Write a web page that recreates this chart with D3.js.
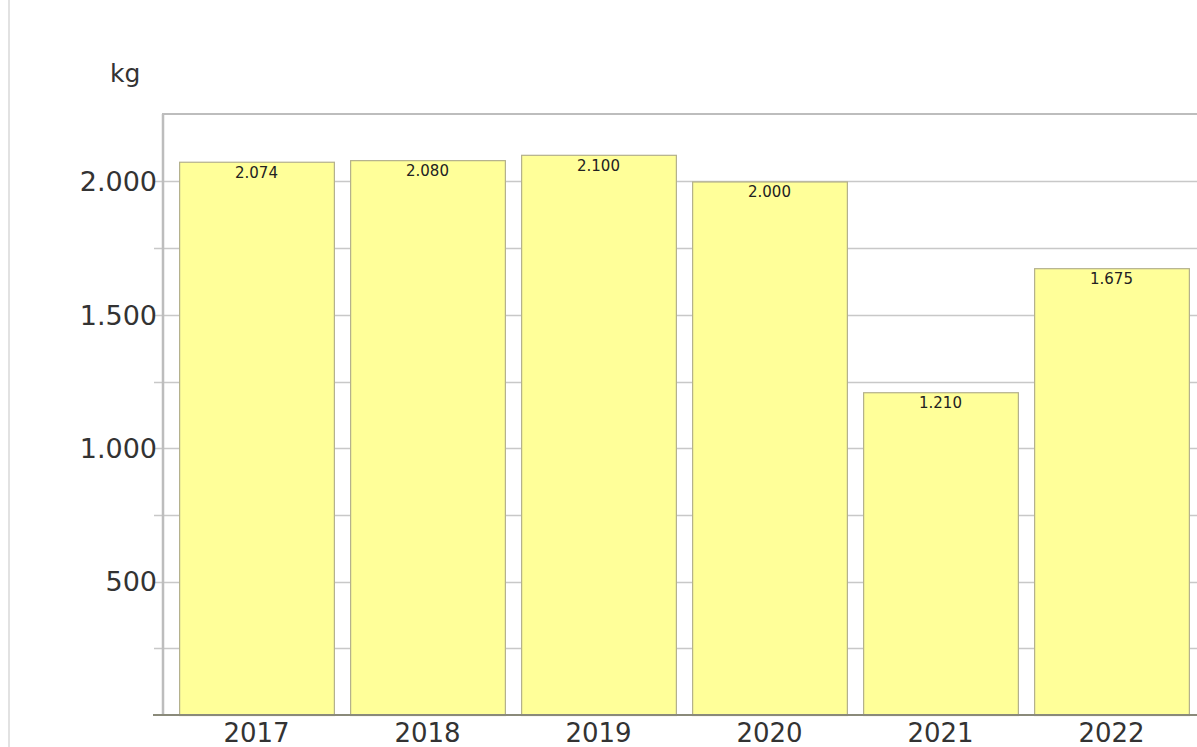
<!DOCTYPE html>
<html>
<head>
<meta charset="utf-8">
<script src="https://cdn.jsdelivr.net/npm/d3@7"></script>
<style>
  body { margin: 0; background: #fff; overflow: hidden; }
  svg { display: block; font-family: "DejaVu Sans", Verdana, sans-serif; }
</style>
</head>
<body>
<div id="chart"></div>
<script>
/* DATA */
const years = ["2017", "2018", "2019", "2020", "2021", "2022"];
const values = [2074, 2080, 2100, 2000, 1210, 1675];
const yTicks = [500, 1000, 1500, 2000];
const gridTicks = [250, 500, 750, 1000, 1250, 1500, 1750, 2000];
const unitLabel = "kg";

/* CONSTANTS */
const width = 1197,
  height = 747,
  margin = { top: 114, bottom: 32, left: 162, right: 0 };

// german number format: 2.074
const de = d3.formatLocale({ decimal: ",", thousands: ".", grouping: [3], currency: ["", " €"] });
const fmt = de.format(",d");

const svg = d3.select("#chart")
  .append("svg")
  .attr("width", width)
  .attr("height", height);

// left frame border of the page box
svg.append("line")
  .attr("x1", 9).attr("x2", 9)
  .attr("y1", 0).attr("y2", height)
  .attr("stroke", "#e2e2e2")
  .attr("stroke-width", 2);

/* SCALES */
const xScale = d3.scaleBand()
  .domain(years)
  .range([171, 171 + 6 * 171])
  .paddingInner(0.095)
  .paddingOuter(0.0475);

const yScale = d3.scaleLinear()
  .domain([0, 2253])
  .range([height - margin.bottom, margin.top]);

const plotRight = width;

/* GRID */
svg.append("g")
  .selectAll("line")
  .data(gridTicks)
  .join("line")
  .attr("x1", 154)
  .attr("x2", plotRight)
  .attr("y1", d => Math.round(yScale(d)) + 0.5)
  .attr("y2", d => Math.round(yScale(d)) + 0.5)
  .attr("stroke", "#c8c8c8")
  .attr("stroke-width", 1.5);

// top border of plot
svg.append("line")
  .attr("x1", margin.left).attr("x2", plotRight)
  .attr("y1", margin.top).attr("y2", margin.top)
  .attr("stroke", "#bdbdbd")
  .attr("stroke-width", 2);

// y axis line
svg.append("line")
  .attr("x1", margin.left + 1).attr("x2", margin.left + 1)
  .attr("y1", margin.top).attr("y2", yScale(0))
  .attr("stroke", "#bdbdbd")
  .attr("stroke-width", 2.5);

/* BARS */
svg.append("g")
  .selectAll("rect")
  .data(values)
  .join("rect")
  .attr("x", (d, i) => xScale(years[i]) + 0.5)
  .attr("y", d => yScale(d) + 0.5)
  .attr("width", xScale.bandwidth())
  .attr("height", d => yScale(0) - yScale(d))
  .attr("fill", "#ffff99")
  .attr("stroke", "#b3b08c")
  .attr("stroke-width", 1.2);

// value labels
svg.append("g")
  .selectAll("text")
  .data(values)
  .join("text")
  .attr("x", (d, i) => xScale(years[i]) + xScale.bandwidth() / 2)
  .attr("y", d => yScale(d) + 16)
  .attr("text-anchor", "middle")
  .attr("font-size", 15)
  .attr("fill", "#222")
  .text(d => fmt(d));

// x axis baseline
svg.append("line")
  .attr("x1", 153).attr("x2", plotRight)
  .attr("y1", yScale(0)).attr("y2", yScale(0))
  .attr("stroke", "#8a8a7a")
  .attr("stroke-width", 2);

/* AXES LABELS */
svg.append("g")
  .selectAll("text")
  .data(yTicks)
  .join("text")
  .attr("x", 157)
  .attr("y", d => yScale(d))
  .attr("dy", "0.36em")
  .attr("text-anchor", "end")
  .attr("font-size", 27)
  .attr("fill", "#333")
  .text(d => fmt(d));

svg.append("g")
  .selectAll("text")
  .data(years)
  .join("text")
  .attr("x", d => xScale(d) + xScale.bandwidth() / 2)
  .attr("y", yScale(0) + 27)
  .attr("text-anchor", "middle")
  .attr("font-size", 26)
  .attr("fill", "#333")
  .text(d => d);

svg.append("text")
  .attr("x", 110)
  .attr("y", 82)
  .attr("font-size", 25)
  .attr("fill", "#333")
  .text(unitLabel);
</script>
</body>
</html>
